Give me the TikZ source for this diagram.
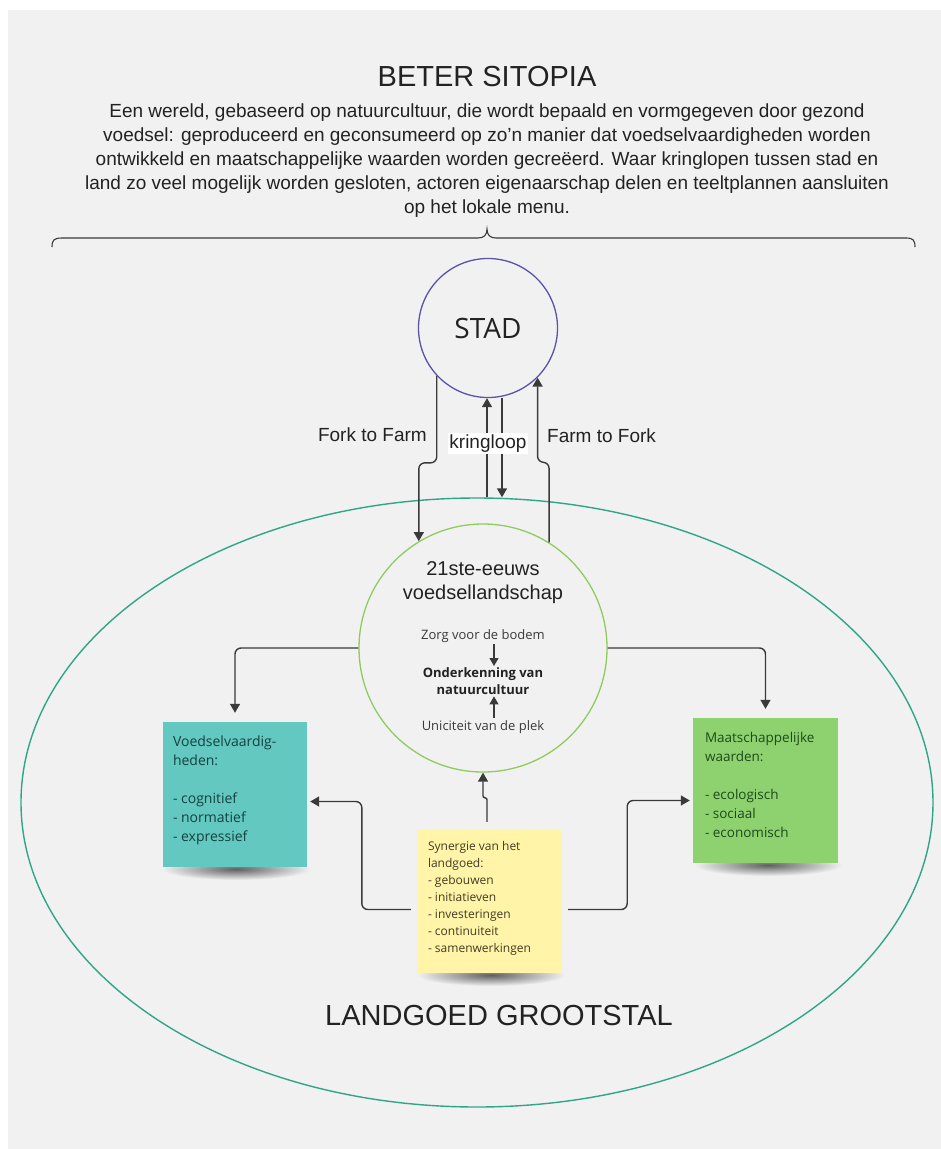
\documentclass[tikz,border=0pt]{standalone}
\usepackage{fontspec}
\setmainfont{Liberation Sans}
\newfontfamily\opensans{Open Sans}
\usetikzlibrary{arrows.meta,shapes.geometric,calc}
\definecolor{bgc}{RGB}{241,241,241}
\definecolor{linec}{RGB}{58,58,58}
\definecolor{txtc}{RGB}{34,34,34}
\definecolor{stadc}{RGB}{88,84,168}
\definecolor{landc}{RGB}{142,204,96}
\definecolor{estc}{RGB}{48,166,136}
\definecolor{tealc}{RGB}{98,200,192}
\definecolor{greenc}{RGB}{142,210,112}
\definecolor{yellowc}{RGB}{255,244,168}
\definecolor{tealtxt}{RGB}{20,66,66}
\definecolor{greentxt}{RGB}{30,74,26}
\definecolor{yellowtxt}{RGB}{66,60,36}
\definecolor{shadowc}{RGB}{95,95,95}
\begin{document}
\begin{tikzpicture}[x=1pt,y=-1pt,
  conn/.style={draw=linec, line width=1.4pt, -{Triangle[width=10pt,length=9pt]}},
  smallconn/.style={draw=linec, line width=1.2pt, -{Triangle[width=9pt,length=8pt]}},
  sticky/.style={rectangle, draw=none, inner sep=0pt},
  stickytext/.style={align=left, inner sep=0pt, anchor=north west},
  lab/.style={font=\fontsize{19}{22}\selectfont, text=txtc, inner sep=0pt},
  smallt/.style={font=\opensans\fontsize{13}{17}\selectfont, text=linec, inner sep=1.5pt}]
\useasboundingbox (0,0) rectangle (941,1149);
\fill[white] (0,0) rectangle (941,1149);
\fill[bgc] (8,10) rectangle (941,1149);

% heading
\node[font=\fontsize{29}{35}\selectfont, text=txtc, anchor=base] (title) at (487,86) {BETER SITOPIA};
\node[font=\fontsize{19}{24}\selectfont, text=txtc, align=center, anchor=north, inner sep=0pt] (intro) at (487,104) {Een wereld, gebaseerd op natuurcultuur, die wordt bepaald en vormgegeven door gezond\\voedsel: geproduceerd en geconsumeerd op zo'n manier dat voedselvaardigheden worden\\ontwikkeld en maatschappelijke waarden worden gecreëerd. Waar kringlopen tussen stad en\\land zo veel mogelijk worden gesloten, actoren eigenaarschap delen en teeltplannen aansluiten\\op het lokale menu.};

% brace
\draw[line width=1.1pt, draw=linec] (52,247) .. controls (52,240) and (54,238) .. (62,238) -- (478,238) .. controls (484,238) and (487,235) .. (487,229) .. controls (487,235) and (490,238) .. (496,238) -- (906,238) .. controls (913,238) and (915,240) .. (915,247);

% main shapes
\node[ellipse, draw=estc, line width=1.4pt, minimum width=912pt, minimum height=609pt, inner sep=0pt] (estate) at (477,802.5) {};
\node[circle, draw=stadc, line width=1.3pt, minimum size=139pt, inner sep=0pt, font=\opensans\fontsize{28}{32}\selectfont, text=txtc] (stad) at (488,328) {STAD};
\node[circle, draw=landc, line width=1.3pt, minimum size=248pt, inner sep=0pt] (land) at (483,648) {};

% shadows of sticky notes
\shade[inner color=shadowc, outer color=bgc] (236,869) ellipse [x radius=74pt, y radius=11pt];
\shade[inner color=shadowc, outer color=bgc] (768,865) ellipse [x radius=74pt, y radius=11pt];
\shade[inner color=shadowc, outer color=bgc] (491,975) ellipse [x radius=74pt, y radius=11pt];

% sticky notes
\node[sticky, fill=tealc, minimum width=144pt, minimum height=145pt] (teal) at (235,794.5) {};
\node[sticky, fill=greenc, minimum width=145pt, minimum height=145pt] (green) at (765.5,790.5) {};
\node[sticky, fill=yellowc, minimum width=145pt, minimum height=143pt] (yellow) at (489.5,901.5) {};

\node[stickytext, text=tealtxt, font=\opensans\fontsize{14}{19}\selectfont] (tealtext) at ([shift={(10,14)}]teal.north west) {Voedselvaardig-\\heden:\\~\\- cognitief\\- normatief\\- expressief};
\node[stickytext, text=greentxt, font=\opensans\fontsize{13.5}{19}\selectfont] (greentext) at ([shift={(12,14)}]green.north west) {Maatschappelijke\\waarden:\\~\\- ecologisch\\- sociaal\\- economisch};
\node[stickytext, text=yellowtxt, font=\opensans\fontsize{12}{17}\selectfont] (yellowtext) at ([shift={(11,11)}]yellow.north west) {Synergie van het\\landgoed:\\- gebouwen\\- initiatieven\\- investeringen\\- continuiteit\\- samenwerkingen};

% texts inside the landscape circle
\node[font=\fontsize{20}{24}\selectfont, text=txtc, align=center, anchor=north, inner sep=0pt] (landtitle) at (483,561) {21ste-eeuws\\voedsellandschap};
\node[smallt, anchor=base] (zorg) at (483,639) {Zorg voor de bodem};
\node[smallt, font=\opensans\bfseries\fontsize{13}{17}\selectfont, text=txtc, align=center, anchor=north] (onder) at (483,666) {Onderkenning van\\natuurcultuur};
\node[smallt, anchor=base] (uni) at (483,730) {Uniciteit van de plek};
\draw[smallconn] ([xshift=11pt]zorg.south) -- ([xshift=11pt]onder.north);
\draw[smallconn] ([xshift=11pt]uni.north) -- ([xshift=11pt]onder.south);

% connectors between city and landscape
\draw[conn, rounded corners=6pt] (stad.223) -- ++(0,87) -| (land.121);
\draw[conn, rounded corners=6pt] (land.58) -- ++(0,-80) -| (stad.315);
\draw[conn] ([xshift=10pt]estate.north) -- ([xshift=-1pt]stad.south);
\draw[conn] ([xshift=14pt]stad.south) -- ([xshift=25pt]estate.north);

\node[lab] (ftf) [anchor=base east] at (427,441) {Fork to Farm};
\node[lab] (ftk) [anchor=base west] at (547,442) {Farm to Fork};
\node[lab, fill=white, inner sep=1.5pt] (kl) at (488,443.5) {kringloop};

% connectors inside the estate
\draw[conn, rounded corners=6pt, shorten >=9pt] (land.west) -| (teal.north);
\draw[conn, rounded corners=6pt, shorten >=9pt] (land.east) -| (green.north);
\draw[conn, rounded corners=6pt, shorten <=6pt, shorten >=3pt] ([yshift=-8pt]yellow.west) -- ++(-55,0) |- ([yshift=-7pt]teal.east);
\draw[conn, rounded corners=6pt, shorten <=6pt, shorten >=3pt] ([yshift=-8pt]yellow.east) -- ++(65,0) |- ([yshift=-10pt]green.west);
\draw[conn, rounded corners=2pt, shorten <=8pt] ([xshift=-2.5pt]yellow.north) -- ++(0,-32) -| (land.south);

\node[font=\fontsize{29}{35}\selectfont, text=txtc, anchor=base] (lg) at (499,1025) {LANDGOED GROOTSTAL};
\end{tikzpicture}
\end{document}
